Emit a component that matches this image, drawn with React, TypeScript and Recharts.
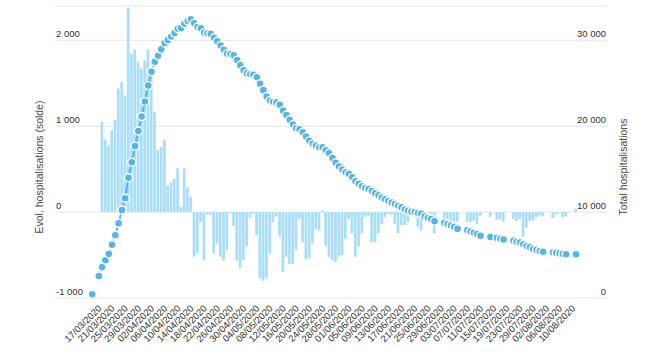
import React from 'react';
import { ComposedChart, Bar, Line, XAxis, YAxis, CartesianGrid } from 'recharts';

const dates: string[] = [
  '14/03/2020','15/03/2020','16/03/2020','17/03/2020','18/03/2020','19/03/2020','20/03/2020','21/03/2020','22/03/2020','23/03/2020',
  '24/03/2020','25/03/2020','26/03/2020','27/03/2020','28/03/2020','29/03/2020','30/03/2020','31/03/2020',
  '01/04/2020','02/04/2020','03/04/2020','04/04/2020','05/04/2020','06/04/2020','07/04/2020','08/04/2020','09/04/2020','10/04/2020',
  '11/04/2020','12/04/2020','13/04/2020','14/04/2020','15/04/2020','16/04/2020','17/04/2020','18/04/2020','19/04/2020','20/04/2020',
  '21/04/2020','22/04/2020','23/04/2020','24/04/2020','25/04/2020','26/04/2020','27/04/2020','28/04/2020','29/04/2020','30/04/2020',
  '01/05/2020','02/05/2020','03/05/2020','04/05/2020','05/05/2020','06/05/2020','07/05/2020','08/05/2020','09/05/2020','10/05/2020',
  '11/05/2020','12/05/2020','13/05/2020','14/05/2020','15/05/2020','16/05/2020','17/05/2020','18/05/2020','19/05/2020','20/05/2020',
  '21/05/2020','22/05/2020','23/05/2020','24/05/2020','25/05/2020','26/05/2020','27/05/2020','28/05/2020','29/05/2020','30/05/2020','31/05/2020',
  '01/06/2020','02/06/2020','03/06/2020','04/06/2020','05/06/2020','06/06/2020','07/06/2020','08/06/2020','09/06/2020','10/06/2020',
  '11/06/2020','12/06/2020','13/06/2020','14/06/2020','15/06/2020','16/06/2020','17/06/2020','18/06/2020','19/06/2020','20/06/2020',
  '21/06/2020','22/06/2020','23/06/2020','24/06/2020','25/06/2020','26/06/2020','27/06/2020','28/06/2020','29/06/2020','30/06/2020',
  '01/07/2020','02/07/2020','03/07/2020','04/07/2020','05/07/2020','06/07/2020','07/07/2020','08/07/2020','09/07/2020','10/07/2020',
  '11/07/2020','12/07/2020','13/07/2020','14/07/2020','15/07/2020','16/07/2020','17/07/2020','18/07/2020','19/07/2020','20/07/2020',
  '21/07/2020','22/07/2020','23/07/2020','24/07/2020','27/07/2020','28/07/2020','29/07/2020','30/07/2020','31/07/2020',
  '01/08/2020','02/08/2020','03/08/2020','04/08/2020','05/08/2020','06/08/2020','07/08/2020','08/08/2020','09/08/2020','10/08/2020',
];

const evolHosp: (number | null)[] = [
  null, null, null, 1050, 845, 775, 953, 1078, 1438, 1515,
  1360, 2380, 1845, 1895, 1748, 1670, 1767, 1895, 1590, 1170,
  720, 760, 840, 310, 350, 390, 510, 60, 510, 290,
  180, -520, -475, -115, -560, -30, -30, -480, -365, -520,
  -565, -440, -10, -160, -565, -655, -560, -400, -65, -25,
  -270, -770, -800, -770, -480, -115, -50, -285, -695, -520,
  -605, -605, -440, -80, -350, -545, -540, -365, -200, -210,
  20, -395, -520, -560, -580, -520, -500, -310, -80, -250,
  -520, -400, -250, -60, -40, -350, -350, -250, -135, -60,
  -20, -30, -135, -250, -150, -150, -115, -30, -60, -170,
  -215, -95, -80, -60, -250, null, null, -130, -90, -110,
  -120, -110, null, null, -110, -115, -100, -140, -40, null,
  null, -60, null, -90, -90, -110, null, null, -80, -100,
  -80, -290, -180, -100, -100, -60, -40, -50, null, null,
  -70, -30, -10, -60, -50, null, null, 40,
];

const totalHosp: (number | null)[] = [
  430, null, 2560, 3600, 4400, 5150, 6200, 7300, 8700, 10250,
  11620, 14000, 15810, 17680, 19450, 21140, 22880, 24730, 26340, 27500,
  28200, 28950, 29700, 30050, 30450, 30850, 31350, 31450, 31950, 32250,
  32450, 32000, 31550, 31400, 30900, 30800, 30750, 30300, 29900, 29400,
  28900, 28450, 28400, 28250, 27700, 27100, 26500, 26150, 26050, 26000,
  25700, 24950, 24200, 23450, 23000, 22850, 22800, 22500, 21800, 21300,
  20750, 20200, 19750, 19650, 19300, 18800, 18300, 17950, 17750, 17550,
  17550, 17200, 16850, 16300, 15750, 15300, 14950, 14650, 14450, 14050,
  13600, 13300, 13000, 12800, 12700, 12450, 12200, 11950, 11700, 11500,
  11300, 11100, 10950, 10750, 10550, 10300, 10150, 10050, 10000, 9900,
  9800, 9500, 9350, 9200, 8950, null, null, 8750, 8600, 8450,
  8300, 8050, null, null, 7900, 7750, 7600, 7450, 7250, null,
  null, 7100, null, 7000, 6900, 6800, null, null, 6700, 6550,
  6450, 6250, 6050, 5900, 5700, 5600, 5480, 5380, null, null,
  5300, 5250, 5200, 5150, 5100, null, null, 5100,
];

const leftTicks = [-1000, 0, 1000, 2000];
const rightTicks = [0, 10000, 20000, 30000];
const leftTitle = 'Evol. hospitalisations (solde)';
const rightTitle = 'Total hospitalisations';

const data = dates.map((d, i) => ({ date: d, evol: evolHosp[i], total: totalHosp[i] }));

const FONT = '"Liberation Sans", Arial, sans-serif';
const PLOT_LEFT = 55;
const PLOT_RIGHT = 607;
const PLOT_BOTTOM = 298;

const fmt = (v: number) => {
  const s = Math.abs(v).toString().replace(/\B(?=(\d{3})+(?!\d))/g, ' ');
  return (v < 0 ? '-' : '') + s;
};

const LeftTick = (props: any) => (
  <text x={PLOT_LEFT + 1} y={props.y - 3.5} fontSize={9.5} fill="#333" fontFamily={FONT} textAnchor="start">
    {fmt(props.payload.value)}
  </text>
);

const RightTick = (props: any) => (
  <text x={PLOT_RIGHT - 1} y={props.y - 3.5} fontSize={9.5} fill="#333" fontFamily={FONT} textAnchor="end">
    {fmt(props.payload.value)}
  </text>
);

const XTick = (props: any) => {
  if (props.index % 4 !== 3) return <g />;
  const x = props.x;
  const y = PLOT_BOTTOM + 11;
  return (
    <text x={x} y={y} transform={`rotate(-45 ${x} ${y})`} fontSize={9.5} fill="#333" fontFamily={FONT} textAnchor="end">
      {props.payload.value}
    </text>
  );
};

const AxisTitle = (props: any) => (
  <text
    x={props.tx}
    y={props.ty}
    transform={`rotate(-90 ${props.tx} ${props.ty})`}
    textAnchor="middle"
    fontSize={10.5}
    fill="#4d4d4d"
    fontFamily={FONT}
  >
    {props.text}
  </text>
);

export default function App() {
  return (
    <div style={{ position: 'absolute', left: 0, top: 0, width: 662, height: 355, background: '#fff' }}>
      <ComposedChart width={662} height={355} data={data} margin={{ top: 6, right: 0, bottom: 0, left: 0 }} barGap={0}>
        <CartesianGrid vertical={false} stroke="#e6e6e6" />
        <XAxis
          dataKey="date"
          interval={0}
          tickLine={false}
          axisLine={false}
          height={57}
          padding={{ left: 35.65, right: 29.35 }}
          tick={<XTick />}
        />
        <YAxis
          domain={[-1000, 2400]}
          ticks={leftTicks}
          interval={0}
          allowDataOverflow
          width={55}
          axisLine={false}
          tickLine={false}
          tick={<LeftTick />}
          label={<AxisTitle tx={42.5} ty={167} text={leftTitle} />}
        />
        <YAxis
          yAxisId="right"
          orientation="right"
          domain={[0, 34000]}
          ticks={rightTicks}
          interval={0}
          allowDataOverflow
          width={55}
          axisLine={false}
          tickLine={false}
          tick={<RightTick />}
          label={<AxisTitle tx={627} ty={167} text={rightTitle} />}
        />
        <Bar dataKey="evol" fill="#a9defb" barSize={2.7} isAnimationActive={false} />
        <Line
          yAxisId="right"
          dataKey="total"
          type="linear"
          stroke="#56b4e6"
          strokeWidth={2}
          connectNulls={false}
          dot={{ r: 4, fill: '#56b4e6', stroke: '#ffffff', strokeWidth: 1.4 }}
          activeDot={false}
          isAnimationActive={false}
        />
      </ComposedChart>
    </div>
  );
}
